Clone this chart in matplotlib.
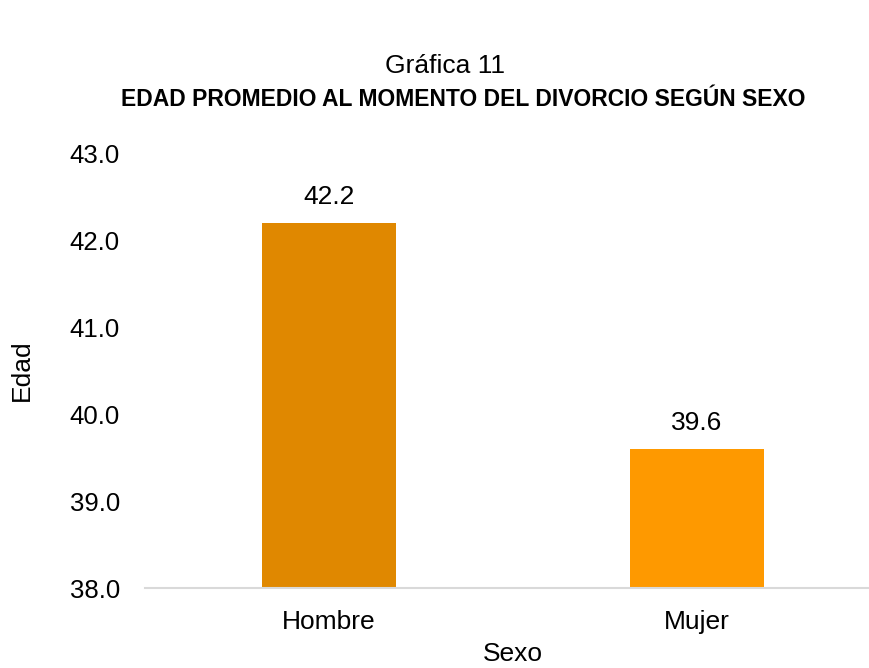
import matplotlib
matplotlib.use("Agg")
import matplotlib.pyplot as plt

categories = ["Hombre", "Mujer"]
values = [42.2, 39.6]
colors = ["#E08800", "#FE9900"]
yticks = [38.0, 39.0, 40.0, 41.0, 42.0, 43.0]

plt.rcParams['font.family'] = ['Liberation Sans', 'DejaVu Sans']

W, H = 870, 668
fig = plt.figure(figsize=(W/100, H/100), dpi=100)
ax = fig.add_axes([145/W, 80/H, 736/W, 435/H])

x = list(range(len(categories)))
bars = ax.bar(x, [v - 38 for v in values], bottom=38, width=0.364, color=colors)
for xi, v in zip(x, values):
    ax.annotate(f"{v:.1f}", (xi, v), xytext=(0, 18.5), textcoords="offset points",
                ha="center", va="center", fontsize=19, color="#000000")

ax.set_xlim(-0.5, 1.5)
ax.set_ylim(38, 43)
ax.set_yticks(yticks)
ax.set_yticklabels([f"{t:.1f}" for t in yticks], fontsize=18.5)
ax.set_xticks(x)
ax.set_xticklabels(categories, fontsize=19)
ax.tick_params(axis='both', length=0)
ax.tick_params(axis='y', pad=18)
ax.tick_params(axis='x', pad=16)
for s in ["top", "right", "left"]:
    ax.spines[s].set_visible(False)
ax.spines["bottom"].set_color("#D9D9D9")
ax.spines["bottom"].set_linewidth(1.5)

fig.text(22/W, 1 - 370/H, "Edad", rotation=90, ha="center", va="center", fontsize=19)
fig.text(513/W, 1 - 654/H, "Sexo", ha="center", va="center", fontsize=19)
fig.text(445/W, 1 - 66/H, "Gráfica 11", ha="center", va="center", fontsize=19)
fig.text(463/W, 1 - 99/H, "EDAD PROMEDIO AL MOMENTO DEL DIVORCIO SEGÚN SEXO",
         ha="center", va="center", fontsize=16.5, fontweight="bold")

fig.savefig("out.png", dpi=100)
